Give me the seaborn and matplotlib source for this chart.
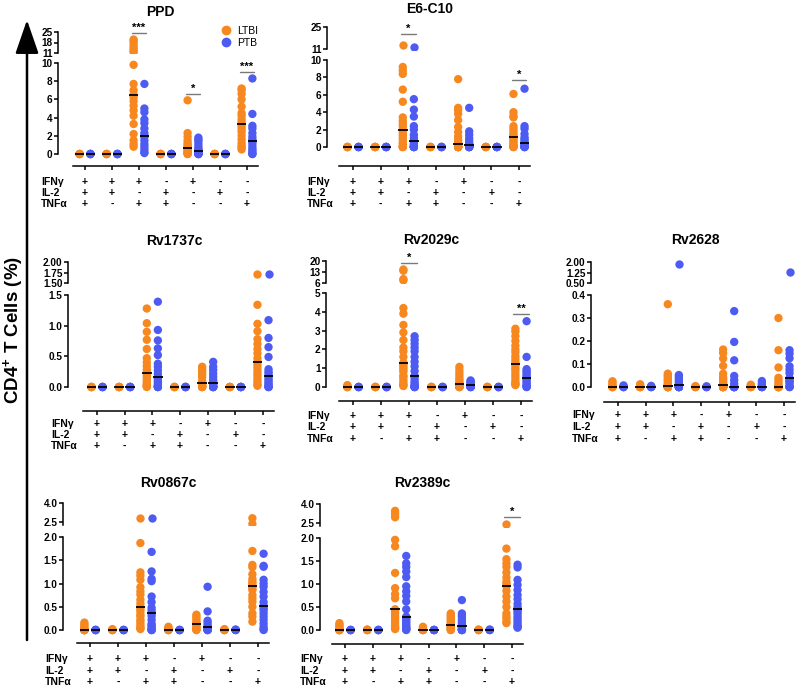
import numpy as np
import pandas as pd
import matplotlib
matplotlib.use("Agg")
import matplotlib.pyplot as plt
import seaborn as sns
from matplotlib import transforms
from matplotlib.lines import Line2D

sns.set_theme(style="ticks", rc={"axes.edgecolor": "black", "xtick.color": "black",
                                 "ytick.color": "black", "text.color": "black"})
plt.rcParams["font.family"] = ["Liberation Sans", "DejaVu Sans"]
plt.rcParams["mathtext.fontset"] = "custom"
plt.rcParams["mathtext.rm"] = "Liberation Sans"
plt.rcParams["mathtext.bf"] = "Liberation Sans:bold"

groups = ["LTBI", "PTB"]
colors = {"LTBI": "#F7871F", "PTB": "#4D5BF2"}

ifng = ["+", "+", "+", "-", "+", "-", "-"]
il2 = ["+", "+", "-", "+", "-", "+", "-"]
tnfa = ["+", "-", "+", "+", "-", "-", "+"]
row_names = ["IFNγ", "IL-2", "TNFα"]

# ---- PPD ----
ppd_ltbi = [
    [0, 0, 0, 0, 0],
    [0, 0, 0, 0, 0],
    [20.0, 19.0, 17.5, 15.5, 14.0, 12.5, 11.5, 9.8, 7.7, 7.0, 6.5, 6.2, 5.8, 5.3, 4.8, 4.2, 3.3, 2.2, 1.5, 1.1, 0.8],
    [0, 0, 0, 0, 0],
    [5.9, 2.3, 1.9, 1.5, 1.2, 1.0, 0.8, 0.7, 0.6, 0.4, 0.3, 0.2, 0.1, 0.0, 0.0],
    [0, 0, 0, 0, 0],
    [7.2, 7.0, 6.6, 6.0, 5.2, 4.5, 4.2, 3.8, 3.5, 3.3, 3.0, 2.7, 2.4, 2.0, 1.6, 1.2, 0.9, 0.7, 0.5],
]
ppd_ptb = [
    [0, 0, 0, 0, 0],
    [0, 0, 0, 0, 0],
    [7.7, 5.0, 4.6, 3.8, 3.4, 2.8, 2.3, 2.0, 1.9, 1.5, 1.1, 0.8, 0.5, 0.2, 0.1],
    [0, 0, 0, 0, 0],
    [1.8, 1.6, 1.4, 1.1, 0.8, 0.6, 0.4, 0.35, 0.3, 0.2, 0.1, 0.0, 0.0, 0.0, 0.0],
    [0, 0, 0, 0, 0],
    [8.3, 4.4, 3.1, 2.8, 2.3, 1.9, 1.6, 1.4, 1.2, 0.9, 0.6, 0.4, 0.2, 0.0, 0.0],
]
ppd_ticks, ppd_labels = [0, 2, 4, 6, 8, 10], ["0", "2", "4", "6", "8", "10"]
ppd_up_ticks, ppd_up_labels = [11, 18, 25], ["11", "18", "25"]
ppd_sig = [(2, 24.1, "***"), (4, 6.6, "*"), (6, 9.0, "***")]

# ---- E6-C10 ----
e6_ltbi = [
    [0, 0, 0, 0, 0],
    [0, 0, 0, 0, 0],
    [13.7, 9.2, 8.8, 8.4, 6.6, 5.2, 3.4, 3.0, 2.7, 2.4, 2.0, 1.7, 1.4, 1.1, 0.8, 0.5, 0.3, 0.1, 0.0, 0.0, 0.0],
    [0, 0, 0, 0, 0],
    [7.8, 4.5, 4.2, 3.8, 3.1, 2.3, 1.7, 1.2, 0.8, 0.6, 0.4, 0.3, 0.2, 0.1, 0.0, 0.0, 0.0, 0.0, 0.0, 0.0, 0.0],
    [0, 0, 0, 0, 0],
    [6.1, 4.0, 3.6, 3.4, 2.4, 2.1, 1.8, 1.5, 1.3, 1.15, 1.0, 0.8, 0.6, 0.4, 0.2, 0.1, 0.0, 0.0, 0.0],
]
e6_ptb = [
    [0, 0, 0, 0, 0],
    [0, 0, 0, 0, 0],
    [12.5, 5.5, 4.3, 3.5, 2.4, 2.0, 1.4, 1.0, 0.65, 0.4, 0.2, 0.1, 0.0, 0.0, 0.0, 0.0, 0.0],
    [0, 0, 0, 0, 0],
    [4.5, 1.8, 1.4, 1.0, 0.7, 0.4, 0.3, 0.2, 0.1, 0.0, 0.0, 0.0, 0.0, 0.0, 0.0],
    [0, 0, 0, 0, 0],
    [6.7, 2.4, 2.1, 1.5, 1.1, 0.9, 0.7, 0.45, 0.3, 0.2, 0.1, 0.0, 0.0, 0.0, 0.0],
]
e6_ticks, e6_labels = [0, 2, 4, 6, 8, 10], ["0", "2", "4", "6", "8", "10"]
e6_up_ticks, e6_up_labels = [11, 25], ["11", "25"]
e6_sig = [(2, 20.5, "*"), (6, 7.7, "*")]

# ---- Rv1737c ----
rv1737_ltbi = [
    [0, 0, 0, 0, 0],
    [0, 0, 0, 0, 0],
    [1.28, 1.04, 0.9, 0.77, 0.62, 0.47, 0.40, 0.34, 0.28, 0.235, 0.2, 0.16, 0.12, 0.08, 0.05, 0.03, 0.02, 0.01, 0.0],
    [0, 0, 0, 0, 0],
    [0.33, 0.3, 0.27, 0.24, 0.2, 0.16, 0.09, 0.06, 0.05, 0.04, 0.02, 0, 0, 0, 0],
    [0, 0, 0, 0, 0],
    [1.71, 1.34, 1.03, 0.91, 0.78, 0.70, 0.62, 0.55, 0.47, 0.41, 0.36, 0.31, 0.26, 0.21, 0.17, 0.12, 0.08, 0.04, 0.02],
]
rv1737_ptb = [
    [0, 0, 0, 0, 0],
    [0, 0, 0, 0, 0],
    [1.39, 0.93, 0.76, 0.63, 0.52, 0.38, 0.33, 0.27, 0.21, 0.16, 0.13, 0.1, 0.07, 0.04, 0.02, 0.01, 0.0, 0.0, 0.0],
    [0, 0, 0, 0, 0],
    [0.41, 0.33, 0.28, 0.22, 0.17, 0.12, 0.08, 0.06, 0.04, 0.02, 0, 0, 0, 0, 0],
    [0, 0, 0, 0, 0],
    [1.71, 1.09, 0.80, 0.65, 0.49, 0.29, 0.25, 0.22, 0.18, 0.14, 0.11, 0.08, 0.05, 0.03, 0.0, 0.0, 0.0],
]
rv1737_ticks, rv1737_labels = [0, 0.5, 1.0, 1.5], ["0.0", "0.5", "1.0", "1.5"]
rv1737_up_ticks, rv1737_up_labels = [1.5, 1.75, 2.0], ["1.50", "1.75", "2.00"]
rv1737_sig = []

# ---- Rv2029c ----
rv2029_ltbi = [
    [0.1, 0.05, 0, 0, 0, 0, 0],
    [0, 0, 0, 0, 0],
    [14.6, 13.8, 8.5, 7.7, 4.2, 3.9, 3.3, 2.9, 2.5, 2.1, 1.9, 1.6, 1.29, 1.2, 1.1, 1.0, 0.9, 0.8, 0.6, 0.55, 0.4, 0.27, 0.15, 0.1, 0.05],
    [0, 0, 0, 0, 0],
    [1.07, 0.9, 0.75, 0.6, 0.45, 0.35, 0.25, 0.18, 0.1, 0.05, 0, 0, 0, 0, 0],
    [0, 0, 0, 0, 0],
    [3.1, 2.95, 2.7, 2.45, 2.2, 2.0, 1.85, 1.65, 1.5, 1.35, 1.25, 1.15, 1.0, 0.9, 0.75, 0.6, 0.45, 0.3, 0.2, 0.15, 0.1],
]
rv2029_ptb = [
    [0, 0, 0, 0, 0],
    [0, 0, 0, 0, 0],
    [2.7, 2.5, 2.3, 2.1, 1.9, 1.6, 1.35, 1.1, 0.85, 0.6, 0.45, 0.3, 0.2, 0.1, 0.05, 0, 0, 0, 0],
    [0, 0, 0, 0, 0],
    [0.35, 0.3, 0.24, 0.18, 0.12, 0.09, 0.05, 0, 0, 0, 0],
    [0, 0, 0, 0, 0],
    [3.5, 1.6, 0.95, 0.85, 0.75, 0.65, 0.55, 0.46, 0.4, 0.3, 0.2, 0.1, 0.05, 0, 0],
]
rv2029_ticks, rv2029_labels = [0, 1, 2, 3, 4, 5], ["0", "1", "2", "3", "4", "5"]
rv2029_up_ticks, rv2029_up_labels = [6, 13, 20], ["6", "13", "20"]
rv2029_sig = [(2, 18.7, "*"), (6, 3.9, "**")]

# ---- Rv2628 ----
rv2628_ltbi = [
    [0.025, 0.02, 0.01, 0.005, 0, 0, 0, 0, 0],
    [0.012, 0.006, 0, 0, 0, 0, 0],
    [0.36, 0.058, 0.05, 0.045, 0.036, 0.03, 0.022, 0.015, 0.01, 0.005, 0.003, 0, 0, 0, 0, 0, 0, 0, 0, 0, 0],
    [0.004, 0, 0, 0, 0],
    [0.163, 0.148, 0.124, 0.092, 0.058, 0.044, 0.035, 0.029, 0.02, 0.015, 0.01, 0.005, 0, 0, 0, 0, 0, 0, 0, 0, 0],
    [0.01, 0.005, 0, 0, 0, 0],
    [0.30, 0.16, 0.085, 0.04, 0.03, 0.02, 0.01, 0, 0, 0, 0, 0, 0, 0, 0],
]
rv2628_ptb = [
    [0.007, 0, 0, 0, 0],
    [0.005, 0, 0, 0, 0],
    [1.84, 0.052, 0.045, 0.036, 0.028, 0.02, 0.012, 0.007, 0, 0, 0, 0, 0, 0, 0],
    [0.003, 0, 0, 0, 0],
    [0.33, 0.196, 0.116, 0.048, 0.03, 0.015, 0, 0, 0, 0, 0, 0, 0],
    [0.026, 0.015, 0.008, 0, 0, 0, 0, 0],
    [1.26, 0.16, 0.145, 0.125, 0.09, 0.075, 0.06, 0.039, 0.03, 0.025, 0.02, 0.01, 0, 0, 0],
]
rv2628_ticks, rv2628_labels = [0, 0.1, 0.2, 0.3, 0.4], ["0.0", "0.1", "0.2", "0.3", "0.4"]
rv2628_up_ticks, rv2628_up_labels = [0.5, 1.25, 2.0], ["0.50", "1.25", "2.00"]
rv2628_sig = []

# ---- Rv0867c ----
rv0867_ltbi = [
    [0.16, 0.12, 0.09, 0.05, 0.02, 0, 0, 0, 0, 0, 0, 0, 0],
    [0.02, 0, 0, 0, 0],
    [2.83, 1.87, 1.24, 1.17, 1.08, 0.92, 0.83, 0.76, 0.65, 0.57, 0.5, 0.45, 0.4, 0.33, 0.29, 0.22, 0.18, 0.12, 0.07, 0.04, 0.02],
    [0.07, 0.04, 0.02, 0, 0, 0, 0, 0],
    [0.33, 0.29, 0.25, 0.2, 0.16, 0.13, 0.09, 0.06, 0.03, 0, 0],
    [0.02, 0, 0, 0, 0],
    [2.8, 2.35, 1.7, 1.4, 1.35, 1.2, 1.1, 1.04, 1.0, 0.95, 0.9, 0.86, 0.75, 0.68, 0.61, 0.5, 0.36, 0.29, 0.18],
]
rv0867_ptb = [
    [0, 0, 0, 0, 0],
    [0, 0, 0, 0, 0],
    [2.83, 1.68, 1.26, 1.1, 1.05, 0.72, 0.6, 0.48, 0.42, 0.36, 0.3, 0.22, 0.14, 0.1, 0.07, 0.03, 0, 0, 0],
    [0, 0, 0, 0, 0],
    [0.93, 0.4, 0.2, 0.15, 0.1, 0.06, 0.03, 0, 0, 0, 0],
    [0.01, 0, 0, 0],
    [1.64, 1.38, 1.36, 1.08, 1.0, 0.93, 0.82, 0.72, 0.6, 0.52, 0.47, 0.43, 0.36, 0.29, 0.22, 0.14, 0.07, 0.02, 0],
]
rv0867_ticks, rv0867_labels = [0, 0.5, 1.0, 1.5, 2.0], ["0.0", "0.5", "1.0", "1.5", "2.0"]
rv0867_up_ticks, rv0867_up_labels = [2.5, 4.0], ["2.5", "4.0"]
rv0867_sig = []

# ---- Rv2389c ----
rv2389_ltbi = [
    [0.15, 0.11, 0.08, 0.04, 0.02, 0, 0, 0, 0, 0, 0, 0],
    [0.01, 0, 0, 0, 0],
    [3.46, 3.3, 3.1, 2.95, 1.96, 1.82, 1.24, 0.91, 0.78, 0.69, 0.45, 0.4, 0.36, 0.3, 0.25, 0.2, 0.15, 0.1, 0.06, 0.04, 0.02],
    [0.07, 0.04, 0.02, 0, 0, 0, 0],
    [0.36, 0.33, 0.29, 0.25, 0.22, 0.18, 0.15, 0.11, 0.09, 0.07, 0.05, 0.03, 0.02, 0, 0],
    [0.01, 0, 0, 0, 0],
    [2.4, 1.77, 1.54, 1.45, 1.37, 1.25, 1.14, 1.05, 1.0, 0.95, 0.85, 0.73, 0.62, 0.5, 0.36, 0.3, 0.25, 0.18, 0.15],
]
rv2389_ptb = [
    [0, 0, 0, 0, 0],
    [0, 0, 0, 0, 0],
    [1.61, 1.45, 1.37, 1.27, 1.15, 0.95, 0.84, 0.74, 0.62, 0.45, 0.29, 0.26, 0.22, 0.18, 0.14, 0.1, 0.07, 0.05, 0.03, 0.01, 0],
    [0, 0, 0, 0, 0],
    [0.65, 0.36, 0.32, 0.28, 0.22, 0.17, 0.13, 0.09, 0.06, 0.04, 0.02, 0, 0, 0, 0],
    [0.01, 0, 0, 0],
    [1.42, 1.36, 1.09, 0.98, 0.87, 0.76, 0.67, 0.57, 0.5, 0.45, 0.4, 0.36, 0.3, 0.25, 0.2, 0.15, 0.1, 0.07, 0.05],
]
rv2389_ticks, rv2389_labels = [0, 0.5, 1.0, 1.5, 2.0], ["0.0", "0.5", "1.0", "1.5", "2.0"]
rv2389_up_ticks, rv2389_up_labels = [2.5, 4.0], ["2.5", "4.0"]
rv2389_sig = [(6, 2.97, "*")]

panels = [
    ("PPD", ppd_ltbi, ppd_ptb, ppd_ticks, ppd_labels, ppd_up_ticks, ppd_up_labels, 11, ppd_sig),
    ("E6-C10", e6_ltbi, e6_ptb, e6_ticks, e6_labels, e6_up_ticks, e6_up_labels, 11, e6_sig),
    ("Rv1737c", rv1737_ltbi, rv1737_ptb, rv1737_ticks, rv1737_labels, rv1737_up_ticks, rv1737_up_labels, 1.5, rv1737_sig),
    ("Rv2029c", rv2029_ltbi, rv2029_ptb, rv2029_ticks, rv2029_labels, rv2029_up_ticks, rv2029_up_labels, 6, rv2029_sig),
    ("Rv2628", rv2628_ltbi, rv2628_ptb, rv2628_ticks, rv2628_labels, rv2628_up_ticks, rv2628_up_labels, 0.5, rv2628_sig),
    ("Rv0867c", rv0867_ltbi, rv0867_ptb, rv0867_ticks, rv0867_labels, rv0867_up_ticks, rv0867_up_labels, 2.25, rv0867_sig),
    ("Rv2389c", rv2389_ltbi, rv2389_ptb, rv2389_ticks, rv2389_labels, rv2389_up_ticks, rv2389_up_labels, 2.25, rv2389_sig),
]

# pixel layout of each panel (spine x, axis start, first/last column, baseline, tick pixels)
layout = {
    "PPD": dict(ls=58, xs=73, c0=85, c6=247, base=166, lo=(0, 154, 10, 63), up=(11, 53, 25, 32), title=12, rows=(182, 193, 204)),
    "E6-C10": dict(ls=327, xs=339, c0=353, c6=519, base=166, lo=(0, 147, 10, 60), up=(11, 49, 25, 27), title=9, rows=(182, 193, 204)),
    "Rv1737c": dict(ls=68, xs=83, c0=97, c6=263, base=411, lo=(0, 387, 1.5, 295), up=(1.5, 283, 2.0, 262), title=241, rows=(424, 435, 446)),
    "Rv2029c": dict(ls=326, xs=339, c0=353, c6=521, base=401, lo=(0, 387, 5, 293), up=(6, 283, 20, 261), title=240, rows=(416, 427, 439)),
    "Rv2628": dict(ls=591, xs=604, c0=618, c6=784, base=402, lo=(0, 387, 0.4, 295), up=(0.5, 283, 2.0, 262), title=240, rows=(415, 427, 439)),
    "Rv0867c": dict(ls=63, xs=77, c0=90, c6=258, base=643, lo=(0, 630, 2.0, 537), up=(2.5, 522, 4.0, 503), title=483, rows=(659, 671, 682)),
    "Rv2389c": dict(ls=320, xs=332, c0=345, c6=512, base=644, lo=(0, 630, 2.0, 538), up=(2.5, 523, 4.0, 504), title=483, rows=(659, 671, 682)),
}

W, H = 800, 688
fig = plt.figure(figsize=(8, 6.88), dpi=100)
base = fig.add_axes([0, 0, 1, 1])
base.set_xlim(0, W)
base.set_ylim(H, 0)
base.axis("off")


def box(x0, y_top, x1, y_bot):
    return [x0 / W, 1 - y_bot / H, (x1 - x0) / W, (y_bot - y_top) / H]


def lin(a):
    v0, p0, v1, p1 = a
    to_pix = lambda v: p0 + (v - v0) * (p1 - p0) / (v1 - v0)
    to_val = lambda p: v0 + (p - p0) * (v1 - v0) / (p1 - p0)
    return to_pix, to_val


def frame(ltbi, ptb):
    rows = []
    for g, cols in zip(groups, [ltbi, ptb]):
        for i, vals in enumerate(cols):
            for v in vals:
                rows.append((i, g, v))
    return pd.DataFrame(rows, columns=["combo", "group", "value"])


TICK_FS = 7.2
upper_axes = {}
for name, ltbi, ptb, ticks, labels, up_ticks, up_labels, up_lo, sig in panels:
    lay = layout[name]
    df = frame(ltbi, ptb)
    step = (lay["c6"] - lay["c0"]) / 6
    x_right = lay["c6"] + 11
    xlim = ((lay["xs"] - lay["c0"]) / step, (x_right - lay["c0"]) / step)
    off = (lay["xs"] - lay["ls"]) * 0.72

    lo_pix, lo_val = lin(lay["lo"])
    up_pix, up_val = lin(lay["up"])
    lo_top = lay["lo"][3] - 4
    up_bot = up_pix(up_lo) + 1
    up_top = lay["up"][3] - 5

    ax = fig.add_axes(box(lay["xs"], lo_top, x_right, lay["base"]))
    axu = fig.add_axes(box(lay["xs"], up_top, x_right, up_bot))
    upper_axes[name] = axu

    # each segment of the broken axis only gets the points in its own range
    parts = [(ax, df[df["value"] <= ticks[-1]]), (axu, df[df["value"] >= up_lo])]
    for a, part in parts:
        sns.stripplot(data=part, x="combo", y="value", hue="group", hue_order=groups,
                      order=list(range(7)), palette=colors, dodge=True, jitter=False,
                      size=6, linewidth=0, legend=False, ax=a)
        a.set_xlim(xlim)
        a.set_facecolor("none")
        a.set_xlabel("")
        a.set_ylabel("")
        a.spines["top"].set_visible(False)
        a.spines["right"].set_visible(False)
        a.spines["left"].set_position(("outward", off))
        a.spines["left"].set_linewidth(1.1)
        a.tick_params(axis="y", length=3, width=1.1, pad=1)

    for gi, cols in enumerate([ltbi, ptb]):
        d = -0.2 if gi == 0 else 0.2
        for i, vals in enumerate(cols):
            ax.hlines(np.median(vals), i + d - 0.17, i + d + 0.17, color="black",
                      lw=1.3, zorder=5)

    ax.set_ylim(lo_val(lay["base"]), lo_val(lo_top))
    ax.spines["left"].set_bounds(ticks[0], ticks[-1])
    ax.set_yticks(ticks, labels, fontsize=TICK_FS, fontweight="bold")
    ax.spines["bottom"].set_linewidth(1.1)
    ax.set_xticks(range(7), [""] * 7)
    ax.tick_params(axis="x", length=3, width=1.1)

    axu.set_ylim(up_val(up_bot), up_val(up_top))
    axu.spines["left"].set_bounds(up_lo, up_ticks[-1])
    axu.set_yticks(up_ticks, up_labels, fontsize=TICK_FS, fontweight="bold")
    axu.spines["bottom"].set_visible(False)
    axu.set_xticks([])

    for i, v, txt in sig:
        a = axu if v > ticks[-1] else ax
        a.plot([i - 0.27, i + 0.27], [v, v], color="#7a7a7a", lw=1.0, clip_on=False, zorder=6)
        a.annotate(txt, (i, v), xytext=(0, 0.2), textcoords="offset points", ha="center",
                   va="bottom", fontsize=8, fontweight="bold", annotation_clip=False)

    base.text((lay["c0"] + lay["c6"]) / 2 - 6, lay["title"], name, ha="center", va="center",
              fontsize=10, fontweight="bold")

    blend = transforms.blended_transform_factory(ax.transData, base.transData)
    for ry, rname, signs in zip(lay["rows"], row_names, [ifng, il2, tnfa]):
        base.text(lay["xs"] - 32, ry, rname, ha="left", va="center", fontsize=7.5,
                  fontweight="bold")
        for i, s in enumerate(signs):
            ax.text(i, ry, s, transform=blend, ha="center", va="center", fontsize=7.5,
                    fontweight="bold", clip_on=False)

handles = [Line2D([], [], marker="o", ls="", color=colors[g], markersize=6) for g in groups]
upper_axes["PPD"].legend(handles, groups, loc="upper left", bbox_to_anchor=(221, 26),
                         bbox_transform=base.transData, frameon=False, fontsize=7.5,
                         handletextpad=0.5, labelspacing=0.15, borderpad=0,
                         handlelength=1.0, borderaxespad=0)

base.text(14, 330, r"CD4$^{\mathbf{+}}$ T Cells (%)", rotation=90, ha="center",
          va="center", fontsize=13.5, fontweight="bold")
base.annotate("", xy=(27, 20), xytext=(27, 640),
              arrowprops=dict(arrowstyle="-|>,head_length=1.3,head_width=0.45",
                              lw=1.8, color="black", mutation_scale=16,
                              shrinkA=0, shrinkB=0))

fig.savefig("out.png", dpi=100)
